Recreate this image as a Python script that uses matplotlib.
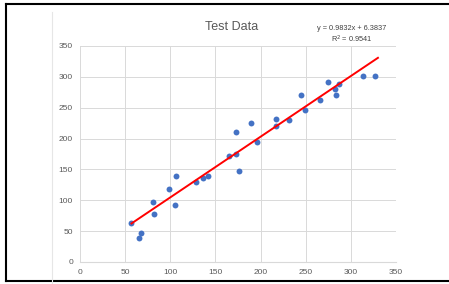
import matplotlib
matplotlib.use("Agg")
import matplotlib.pyplot as plt
from matplotlib.lines import Line2D

# data
x_vals = [57, 65, 68, 81, 82, 99, 105, 106, 128, 136, 142, 165, 173, 173, 176,
          189, 196, 217, 217, 232, 245, 249, 266, 275, 282, 283, 287, 314, 327]
y_vals = [63, 39, 47, 97, 78, 119, 92, 139, 129, 136, 139, 171, 175, 211, 147,
          226, 195, 220, 231, 230, 270, 247, 263, 292, 281, 271, 289, 301, 301]
slope = 0.9832
intercept = 6.3837
r2 = 0.9541
ticks = [0, 50, 100, 150, 200, 250, 300, 350]

plt.rcParams['font.family'] = ['Liberation Sans', 'DejaVu Sans']
W, H = 449, 284
fig = plt.figure(figsize=(W / 100, H / 100), dpi=100)
ax = fig.add_axes([80 / W, 1 - 262 / H, 316 / W, 216 / H])

ax.scatter(x_vals, y_vals, s=18, color='#4472c4', zorder=3, linewidths=0)
x0, x1 = min(x_vals), 330
ax.plot([x0, x1], [slope * x0 + intercept, slope * x1 + intercept],
        color='#ff0000', lw=1.4, zorder=4)

ax.set_xlim(0, 350)
ax.set_ylim(0, 350)
ax.set_xticks(ticks)
ax.set_yticks(ticks)
ax.grid(True, color='#d9d9d9', lw=0.7)
ax.set_axisbelow(True)
for s in ['top', 'right', 'left']:
    ax.spines[s].set_visible(False)
ax.spines['bottom'].set_color('#d9d9d9')
ax.spines['bottom'].set_linewidth(0.8)
ax.tick_params(length=0, labelsize=6, labelcolor='#595959', pad=5)

fig.text(232 / W, 1 - 27 / H, 'Test Data', ha='center', va='center',
         fontsize=9, color='#595959')
fig.text(352 / W, 1 - 28 / H, 'y = {}x + {}'.format(slope, intercept),
         ha='center', va='center', fontsize=5.3, color='#404040')
fig.text(352 / W, 1 - 39 / H, 'R$^2$ = {}'.format(r2),
         ha='center', va='center', fontsize=5.3, color='#404040')

# screenshot frame
fig.add_artist(Line2D([6 / W, 1], [1 - 4 / H, 1 - 4 / H], color='black', lw=1.5))
fig.add_artist(Line2D([6 / W, 6 / W], [1 - 4 / H, 1 - 281 / H], color='black', lw=1.5))
fig.add_artist(Line2D([6 / W, 1], [1 - 281 / H, 1 - 281 / H], color='black', lw=1.5))
fig.add_artist(Line2D([52 / W, 52 / W], [1 - 12 / H, 0], color='#e6e6e6', lw=0.8))

fig.savefig('out.png', dpi=100)
